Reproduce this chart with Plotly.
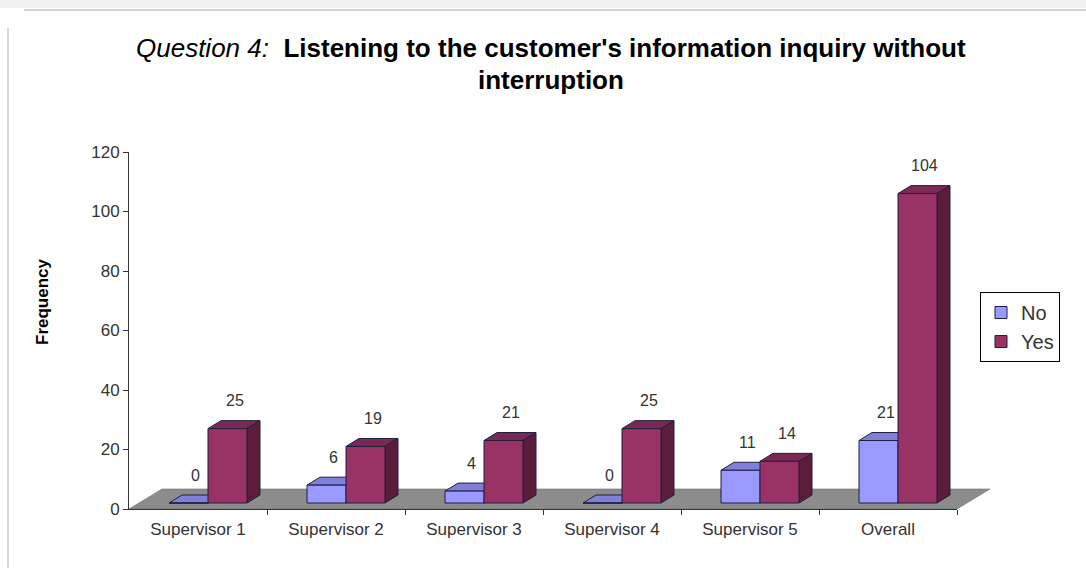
import plotly.graph_objects as go

# ---- data -------------------------------------------------------------
categories = ["Supervisor 1", "Supervisor 2", "Supervisor 3",
              "Supervisor 4", "Supervisor 5", "Overall"]
no_values = [0, 6, 4, 0, 11, 21]
yes_values = [25, 19, 21, 25, 14, 104]
y_ticks = [0, 20, 40, 60, 80, 100, 120]

# ---- geometry ---------------------------------------------------------
W, H = 1086, 568
ML, MR, MT, MB = 129, 129, 152, 59
PW, PH = W - ML - MR, H - MT - MB
N = len(categories)
X_LO, X_HI = -0.5, N - 0.5
Y_LO, Y_HI = 0, 120
px_x = PW / (X_HI - X_LO)          # pixels per category
px_y = PH / (Y_HI - Y_LO)          # pixels per frequency unit

BAR_W = 39 / px_x                  # width of one bar
BAR_DX, BAR_DY = 13 / px_x, 8 / px_y      # bar depth (3-D offset)
FLOOR_DX, FLOOR_DY = 33 / px_x, 20 / px_y  # floor depth
SHIFT_X, SHIFT_Y = 10 / px_x, 6 / px_y    # bars sit inside the floor

NO_FRONT, NO_TOP, NO_SIDE = "#9999FF", "#8080DA", "#6A6AB8"
YES_FRONT, YES_TOP, YES_SIDE = "#993366", "#7A2952", "#5A1E3C"
EDGE = "#1F1F3F"
FONT = "Liberation Sans, Arial, sans-serif"
TXT = "#333333"


def px2paper_x(px):
    return (px - ML) / PW


def px2paper_y(py):
    return 1 - (py - MT) / PH


def data2paper_x(x):
    return (x - X_LO) / (X_HI - X_LO)


def data2paper_y(y):
    return (y - Y_LO) / (Y_HI - Y_LO)


fig = go.Figure()

# empty trace so the visible x/y axes are laid out and drawn
fig.add_trace(go.Scatter(x=[], y=[], mode="markers", showlegend=False,
                         hoverinfo="skip"))

series = [
    ("No", no_values, -BAR_W / 2, NO_FRONT, NO_TOP, NO_SIDE),
    ("Yes", yes_values, BAR_W / 2, YES_FRONT, YES_TOP, YES_SIDE),
]

shapes = []

# grey floor under the bars (paper coordinates so it is not clipped)
fx0, fx1 = data2paper_x(X_LO), data2paper_x(X_HI)
fdx = data2paper_x(X_LO + FLOOR_DX) - fx0
fy0 = data2paper_y(Y_LO)
fy1 = data2paper_y(Y_LO + FLOOR_DY)
shapes.append(dict(
    type="path", xref="paper", yref="paper", layer="below",
    path=(f"M {fx0},{fy0} L {fx1},{fy0} L {fx1 + fdx},{fy1} "
          f"L {fx0 + fdx},{fy1} Z"),
    fillcolor="#8C8C8C", line=dict(color="#6E6E6E", width=0.6),
))

annotations = []

for name, vals, off, front, top, side in series:
    xs = [i + off for i in range(N)]
    fig.add_trace(go.Bar(
        name=name, x=xs, y=vals, width=BAR_W,
        xaxis="x2", yaxis="y2",
        marker=dict(color=front, line=dict(color=EDGE, width=1)),
    ))
    for x, v in zip(xs, vals):
        x0, x1 = x - BAR_W / 2, x + BAR_W / 2
        # top face
        shapes.append(dict(
            type="path", xref="x2", yref="y2", layer="below",
            path=(f"M {x0},{v} L {x1},{v} L {x1 + BAR_DX},{v + BAR_DY} "
                  f"L {x0 + BAR_DX},{v + BAR_DY} Z"),
            fillcolor=top, line=dict(color=EDGE, width=1),
        ))
        # right side face
        shapes.append(dict(
            type="path", xref="x2", yref="y2", layer="below",
            path=(f"M {x1},0 L {x1},{v} L {x1 + BAR_DX},{v + BAR_DY} "
                  f"L {x1 + BAR_DX},{BAR_DY} Z"),
            fillcolor=side, line=dict(color=EDGE, width=1),
        ))
        annotations.append(dict(
            xref="x2", yref="y2", x=x, y=v, text=str(v), showarrow=False,
            xshift=7, yshift=28, font=dict(family=FONT, size=16, color=TXT),
        ))

# chart title
annotations.append(dict(
    xref="paper", yref="paper", x=px2paper_x(551), y=px2paper_y(48),
    xanchor="center", yanchor="middle", showarrow=False,
    text=("<i>Question 4:</i>  <b>Listening to the customer's information "
          "inquiry without</b>"),
    font=dict(family=FONT, size=26, color="#000000"),
))
annotations.append(dict(
    xref="paper", yref="paper", x=px2paper_x(551), y=px2paper_y(80),
    xanchor="center", yanchor="middle", showarrow=False,
    text="<b>interruption</b>",
    font=dict(family=FONT, size=26, color="#000000"),
))
# axis title
annotations.append(dict(
    xref="paper", yref="paper", x=px2paper_x(42), y=px2paper_y(302),
    xanchor="center", yanchor="middle", showarrow=False, textangle=-90,
    text="<b>Frequency</b>",
    font=dict(family=FONT, size=17, color="#000000"),
))

# light frame around the chart area
shapes += [
    dict(type="rect", xref="paper", yref="paper", layer="below",
         x0=px2paper_x(0), x1=px2paper_x(W), y0=px2paper_y(0), y1=px2paper_y(8),
         fillcolor="#F0F0F0", line=dict(width=0)),
    dict(type="line", xref="paper", yref="paper", layer="below",
         x0=px2paper_x(24), x1=px2paper_x(W), y0=px2paper_y(10), y1=px2paper_y(10),
         line=dict(color="#D2D2D2", width=2)),
    dict(type="line", xref="paper", yref="paper", layer="below",
         x0=px2paper_x(8), x1=px2paper_x(8), y0=px2paper_y(28), y1=px2paper_y(H),
         line=dict(color="#D8D8D8", width=2)),
]

fig.update_layout(
    width=W, height=H,
    margin=dict(l=ML, r=MR, t=MT, b=MB),
    paper_bgcolor="#FFFFFF", plot_bgcolor="rgba(0,0,0,0)",
    barmode="overlay",
    font=dict(family=FONT, size=17, color=TXT),
    xaxis=dict(
        range=[X_LO, X_HI], tickvals=list(range(N)), ticktext=categories,
        ticks="", showgrid=False, zeroline=False, ticklabelstandoff=5,
        showline=True, linecolor="#333333", linewidth=1,
        tickfont=dict(family=FONT, size=17, color=TXT),
        minor=dict(tickvals=[i + 0.5 for i in range(N)], ticks="outside",
                   ticklen=5, tickcolor="#333333", showgrid=False),
    ),
    yaxis=dict(
        range=[Y_LO, Y_HI], tickvals=y_ticks, ticks="outside", ticklen=5,
        tickcolor="#333333", showgrid=False, zeroline=False,
        showline=True, linecolor="#333333", linewidth=1,
        tickfont=dict(family=FONT, size=17, color=TXT),
    ),
    xaxis2=dict(range=[X_LO - SHIFT_X, X_HI - SHIFT_X], overlaying="x",
                visible=False),
    yaxis2=dict(range=[Y_LO - SHIFT_Y, Y_HI - SHIFT_Y], overlaying="y",
                visible=False),
    legend=dict(
        x=px2paper_x(980), y=px2paper_y(292), xanchor="left", yanchor="top",
        bgcolor="#FFFFFF", bordercolor="#000000", borderwidth=1,
        font=dict(family=FONT, size=20, color=TXT),
        itemwidth=30, tracegroupgap=0,
    ),
    showlegend=True,
    shapes=shapes,
    annotations=annotations,
)

fig.write_html("out.html")
